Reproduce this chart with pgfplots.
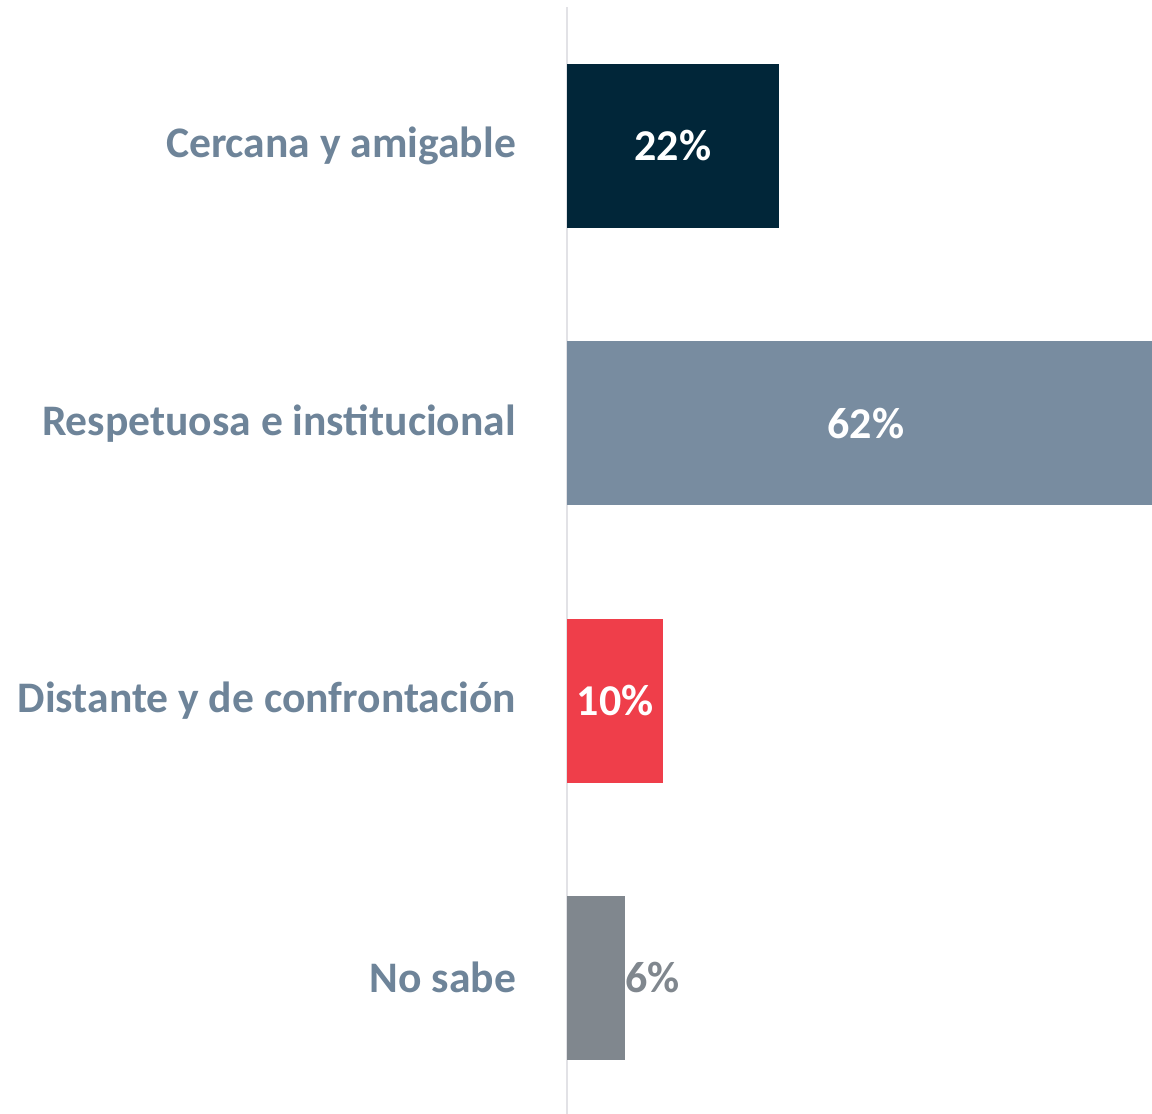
\documentclass[border=0pt]{standalone}
\usepackage{pgfplots}
\pgfplotsset{compat=1.18}
\usepackage{fontspec}
\setmainfont{Carlito}
\definecolor{cNavy}{HTML}{012639}
\definecolor{cSlate}{HTML}{788CA0}
\definecolor{cRed}{HTML}{EF3E4A}
\definecolor{cGray}{HTML}{80878E}
\definecolor{cLabel}{HTML}{6E8499}
\definecolor{cAxis}{HTML}{E2E2E6}
\begin{document}
\begin{tikzpicture}
\begin{axis}[
  name=ax, at={(0,-1.25pt)}, anchor=south west,
  scale only axis, width=292.5pt, height=554.6pt,
  xmin=0, xmax=60.7,
  ymin=-0.5, ymax=3.5, y dir=reverse,
  xbar, bar shift=0pt, bar width=82pt,
  axis x line=none,
  axis y line*=left,
  axis line style={draw=cAxis, line width=0.6pt},
  ytick={0,1,2,3},
  yticklabels={Cercana y amigable, Respetuosa e institucional, Distante y de confrontación, No sabe},
  yticklabel style={font=\fontsize{21.8pt}{24pt}\selectfont\bfseries, text=cLabel, anchor=east, xshift=-22pt},
  major tick length=0pt, ytick style={draw=none},
  nodes near coords style={font=\fontsize{22pt}{24pt}\selectfont\bfseries},
]
\addplot[fill=cNavy, draw=none] coordinates {(22,0)};
\addplot[fill=cSlate, draw=none] coordinates {(62,1)};
\addplot[fill=cRed, draw=none] coordinates {(10,2)};
\addplot[fill=cGray, draw=none] coordinates {(6,3)};
% centred value labels
\addplot[draw=none, mark=none, xbar=0pt, bar width=0pt, nodes near coords, point meta=explicit symbolic,
  every node near coord/.append style={text=white, anchor=center, xshift=0pt}]
  coordinates {(11,0) [22\%] (31,1) [62\%] (5,2) [10\%]};
\addplot[draw=none, mark=none, xbar=0pt, bar width=0pt, nodes near coords, point meta=explicit symbolic,
  every node near coord/.append style={text=cGray, anchor=west, inner xsep=0pt, xshift=0pt}]
  coordinates {(6,3) [6\%]};
\end{axis}
\pgfresetboundingbox
\path (-283.5pt,0pt) rectangle (292.5pt,557pt);
\end{tikzpicture}
\end{document}
